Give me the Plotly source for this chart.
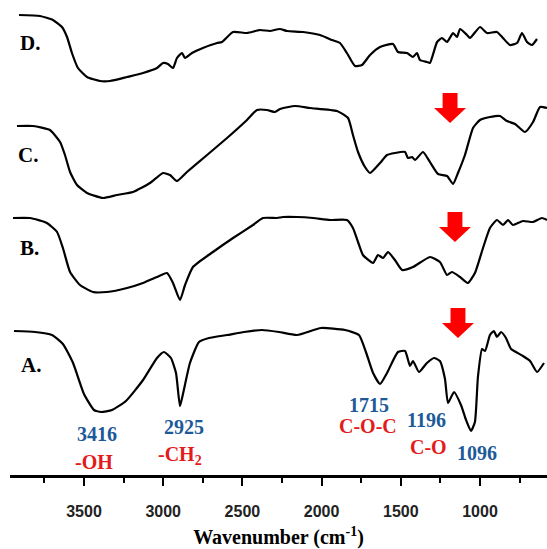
import plotly.graph_objects as go

# ---------------- data ----------------
# wavenumbers (cm-1) and stacked transmittance (a.u., already offset)
wn_D = [3910, 3778, 3696, 3639, 3607, 3576, 3538, 3481, 3399, 3336, 3228, 3127, 3039, 3001, 2970, 2938,
        2913, 2881, 2862, 2818, 2749, 2660, 2629, 2559, 2471, 2389, 2326, 2263, 2218, 2117, 2010, 1934,
        1884, 1840, 1789, 1745, 1694, 1631, 1549, 1518, 1461, 1423, 1398, 1379, 1335, 1316, 1271, 1240,
        1208, 1170, 1145, 1126, 1082, 1063, 1000, 956, 893, 855, 811, 766, 735, 703, 672, 640]
tr_D = [460, 459, 455, 448, 438, 422, 407, 398, 394, 394, 398, 402, 407, 412, 411, 407,
        417, 422, 417, 422, 427, 432, 433, 443, 442, 445, 444, 446, 444, 443, 440, 435,
        432, 422, 409, 410, 420, 428, 431, 423, 422, 418, 422, 415, 413, 412, 433, 437,
        433, 442, 438, 446, 440, 437, 448, 442, 443, 437, 430, 432, 442, 433, 430, 436]

wn_C = [3923, 3822, 3715, 3651, 3620, 3588, 3544, 3481, 3380, 3292, 3191, 3083, 3001, 2957, 2913, 2850,
        2723, 2597, 2471, 2408, 2345, 2294, 2263, 2168, 2073, 1903, 1833, 1802, 1770, 1726, 1694, 1631,
        1587, 1537, 1473, 1455, 1429, 1410, 1360, 1316, 1265, 1208, 1170, 1139, 1095, 1044, 1000, 937,
        874, 830, 779, 716, 665, 621, 577]
tr_C = [349, 349, 345, 333, 320, 303, 290, 282, 277, 280, 283, 292, 302, 300, 294, 303,
        320, 337, 355, 365, 365, 363, 366, 369, 367, 364, 357, 340, 323, 308, 302, 312,
        320, 322, 323, 317, 318, 315, 323, 313, 301, 299, 291, 302, 320, 347, 355, 358,
        359, 354, 351, 343, 353, 368, 367]

wn_B = [3948, 3841, 3734, 3670, 3633, 3588, 3525, 3443, 3355, 3228, 3127, 3039, 2976, 2938, 2894, 2862,
        2812, 2686, 2559, 2433, 2370, 2282, 2244, 2155, 2054, 1947, 1840, 1802, 1770, 1739, 1675, 1644,
        1612, 1581, 1537, 1492, 1423, 1316, 1253, 1208, 1177, 1126, 1076, 1032, 981, 937, 893, 855,
        823, 792, 729, 665, 609, 577]
tr_B = [257, 257, 252, 243, 227, 203, 190, 183, 183, 187, 192, 198, 202, 192, 175, 190,
        208, 223, 237, 250, 257, 257, 258, 258, 257, 255, 255, 247, 233, 220, 212, 220,
        217, 223, 215, 205, 208, 218, 213, 200, 203, 198, 192, 202, 227, 247, 255, 250,
        255, 250, 254, 253, 257, 255]

wn_A = [3942, 3809, 3702, 3633, 3569, 3500, 3437, 3393, 3323, 3235, 3127, 3039, 2995, 2951, 2919, 2894,
        2875, 2831, 2774, 2711, 2597, 2490, 2376, 2269, 2155, 2004, 1852, 1764, 1720, 1675, 1631, 1587,
        1518, 1473, 1442, 1423, 1385, 1335, 1290, 1253, 1221, 1202, 1164, 1120, 1088, 1057, 1032, 1013,
        987, 968, 937, 912, 893, 867, 836, 804, 773, 729, 684, 640, 596]
tr_A = [144, 143, 140, 131, 112, 81, 65, 63, 65, 74, 95, 117, 123, 117, 102, 69,
        81, 112, 133, 137, 140, 143, 145, 143, 140, 147, 145, 140, 123, 102, 91, 102,
        123, 124, 109, 114, 103, 112, 117, 114, 96, 72, 83, 70, 55, 44, 53, 98,
        126, 124, 140, 144, 138, 143, 137, 126, 123, 119, 114, 103, 112]

series_names = ["A.", "B.", "C.", "D."]
label_wn = [3835, 3841, 3853, 3841]
label_tr = [110, 227, 320, 432]

peak_labels = ["3416", "-OH", "2925", "-CH<sub>2</sub>", "1715", "C-O-C", "1196", "C-O", "1096"]
peak_wn = [3418, 3437, 2869, 2894, 1701, 1707, 1335, 1328, 1019]
peak_tr = [41, 13, 48, 20, 70, 49, 55, 28, 22]
peak_kind = ["num", "grp", "num", "grp", "num", "grp", "num", "grp", "num"]

arrow_wn = [1139, 1158, 1189]
arrow_tip = [137, 233, 352]

tick_vals = [3500, 3000, 2500, 2000, 1500, 1000]
tick_text = ["3500", "3000", "2500", "2000", "1500", "1000"]

BLUE = "#1d5a9a"
RED = "#e31b1b"

fig = go.Figure()
for wn, tr in [(wn_A, tr_A), (wn_B, tr_B), (wn_C, tr_C), (wn_D, tr_D)]:
    fig.add_trace(go.Scatter(x=wn, y=tr, mode="lines",
                             line=dict(color="black", width=2.2, shape="spline", smoothing=0.5),
                             showlegend=False, hoverinfo="skip"))

serif = "Liberation Serif"
for name, xw, yt in zip(series_names, label_wn, label_tr):
    fig.add_annotation(x=xw, y=yt, text=name, showarrow=False,
                       font=dict(family=serif, size=21, color="black", weight="bold"))

for txt, xw, yt, kind in zip(peak_labels, peak_wn, peak_tr, peak_kind):
    fig.add_annotation(x=xw, y=yt, text=txt, showarrow=False,
                       font=dict(family=serif, size=20, color=BLUE if kind == "num" else RED,
                                 weight="bold"))

# block arrows
half_shaft, half_head, head_len, shaft_len = 47, 101, 15, 15
for xw, tip in zip(arrow_wn, arrow_tip):
    hy = tip + head_len
    top = hy + shaft_len
    path = (f"M {xw-half_shaft},{top} L {xw+half_shaft},{top} L {xw+half_shaft},{hy} "
            f"L {xw+half_head},{hy} L {xw},{tip} L {xw-half_head},{hy} L {xw-half_shaft},{hy} Z")
    fig.add_shape(type="path", path=path, xref="x", yref="y",
                  fillcolor="#ff0000", line=dict(width=0))

fig.update_layout(
    width=547, height=549,
    margin=dict(l=10, r=0, t=0, b=74),
    paper_bgcolor="white", plot_bgcolor="white",
    xaxis=dict(range=[3967, 577], showgrid=False, zeroline=False,
               showline=True, linecolor="black", linewidth=2.5,
               tickmode="array", tickvals=tick_vals, ticktext=tick_text,
               ticks="outside", ticklen=8, tickwidth=2, tickcolor="black",
               ticklabelstandoff=12,
               tickfont=dict(family="Liberation Sans", size=16, color="#222", weight="bold"),
               minor=dict(dtick=500, tick0=3750, ticks="outside", ticklen=5, tickwidth=2,
                          tickcolor="black", showgrid=False),
               title=dict(text="Wavenumber (cm<sup>-1</sup>)", standoff=13,
                          font=dict(family=serif, size=20, color="black", weight="bold")),
               automargin=False),
    yaxis=dict(range=[0, 475], visible=False, fixedrange=True),
)

fig.write_html("out.html")
